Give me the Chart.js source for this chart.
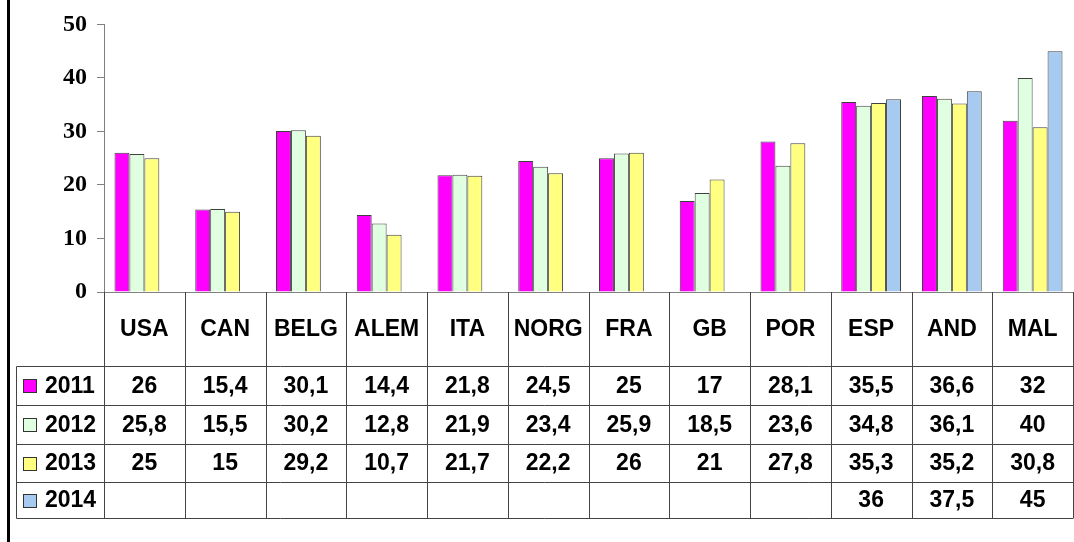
<!DOCTYPE html>
<html>
<head>
<meta charset="utf-8">
<script src="https://cdn.jsdelivr.net/npm/chart.js@4/dist/chart.umd.min.js"></script>
<style>
  html, body { margin: 0; padding: 0; background: #fff; }
  #wrap { width: 1074px; height: 542px; position: relative; }
</style>
</head>
<body>
<div id="wrap"><canvas id="chart" width="1074" height="542"></canvas></div>
<script>
const countries = ['USA', 'CAN', 'BELG', 'ALEM', 'ITA', 'NORG', 'FRA', 'GB', 'POR', 'ESP', 'AND', 'MAL'];
const years = ['2011', '2012', '2013', '2014'];
const values2011 = [26, 15.4, 30.1, 14.4, 21.8, 24.5, 25, 17, 28.1, 35.5, 36.6, 32];
const values2012 = [25.8, 15.5, 30.2, 12.8, 21.9, 23.4, 25.9, 18.5, 23.6, 34.8, 36.1, 40];
const values2013 = [25, 15, 29.2, 10.7, 21.7, 22.2, 26, 21, 27.8, 35.3, 35.2, 30.8];
const values2014 = [null, null, null, null, null, null, null, null, null, 36, 37.5, 45];
const yTicks = [0, 10, 20, 30, 40, 50];

const seriesColors = ['#ff00ff', '#e0ffe0', '#ffff80', '#a6caf0'];
const seriesValues = [values2011, values2012, values2013, values2014];

const lineColor = '#444444';
const axisColor = '#808080';
const tableFont = 'bold 23px "Liberation Sans", Arial, sans-serif';

// data table under the plot, drawn from the same arrays
const dataTable = {
  id: 'dataTable',
  afterDraw(c) {
    const ctx = c.ctx;
    const area = c.chartArea;
    const x = c.scales.x;
    const colW = (area.right - area.left) / countries.length;
    const labelRowBottom = 365.5;
    const rowH = [39.5, 38.5, 38.5, 36];
    const legendLeft = 16.5;

    ctx.save();

    // outer frame line on the left
    ctx.fillStyle = '#000';
    ctx.fillRect(7, 0, 3, 542);

    // category axis baseline
    ctx.strokeStyle = axisColor;
    ctx.lineWidth = 1;
    ctx.beginPath();
    ctx.moveTo(area.left, Math.round(area.bottom) + 0.5);
    ctx.lineTo(area.right, Math.round(area.bottom) + 0.5);
    ctx.stroke();

    // row boundaries
    const rowTops = [labelRowBottom];
    rowH.forEach((h, i) => rowTops.push(rowTops[i] + h));
    const tableBottom = rowTops[rowTops.length - 1];

    ctx.strokeStyle = lineColor;
    ctx.beginPath();
    rowTops.forEach((y) => {
      ctx.moveTo(legendLeft, Math.round(y) + 0.5);
      ctx.lineTo(area.right, Math.round(y) + 0.5);
    });
    // legend column left edge
    ctx.moveTo(legendLeft, Math.round(labelRowBottom) + 0.5);
    ctx.lineTo(legendLeft, Math.round(tableBottom) + 0.5);
    // column boundaries
    for (let i = 0; i <= countries.length; i++) {
      const xx = Math.round(area.left + i * colW) + 0.5;
      ctx.moveTo(xx, area.bottom);
      ctx.lineTo(xx, Math.round(tableBottom) + 0.5);
    }
    ctx.stroke();

    // category labels
    ctx.fillStyle = '#000';
    ctx.textAlign = 'center';
    ctx.textBaseline = 'middle';
    ctx.font = tableFont;
    countries.forEach((name, i) => {
      ctx.fillText(name, x.getPixelForValue(i), (area.bottom + labelRowBottom) / 2 + 1);
    });

    // rows
    years.forEach((year, r) => {
      const yMid = (rowTops[r] + rowTops[r + 1]) / 2 + 1;
      // legend swatch
      ctx.fillStyle = seriesColors[r];
      ctx.fillRect(23, Math.round(yMid - 7), 14, 14);
      ctx.strokeStyle = '#333';
      ctx.strokeRect(23.5, Math.round(yMid - 7) + 0.5, 13, 13);
      ctx.fillStyle = '#000';
      ctx.textAlign = 'left';
      ctx.font = tableFont;
      ctx.fillText(year, 45, yMid);

      ctx.textAlign = 'center';
      seriesValues[r].forEach((v, i) => {
        if (v === null) return;
        ctx.fillText(String(v).replace('.', ','), x.getPixelForValue(i), yMid);
      });
    });

    ctx.restore();
  }
};

new Chart(document.getElementById('chart'), {
  type: 'bar',
  data: {
    labels: countries,
    datasets: years.map((year, i) => ({
      label: year,
      data: seriesValues[i],
      backgroundColor: seriesColors[i],
      borderColor: '#404040',
      borderWidth: 1,
      barPercentage: 1,
      categoryPercentage: 0.74,
    })),
  },
  options: {
    responsive: false,
    animation: false,
    layout: {
      padding: { left: 0, right: 1, top: 23, bottom: 250 },
    },
    scales: {
      x: {
        display: false,
      },
      y: {
        min: 0,
        max: 50,
        afterFit: (scale) => { scale.width = 104; },
        afterBuildTicks: (scale) => { scale.ticks = yTicks.map((v) => ({ value: v })); },
        border: { display: true, color: axisColor, width: 1 },
        grid: {
          drawOnChartArea: false,
          drawTicks: true,
          tickLength: 7,
          color: axisColor,
        },
        ticks: {
          padding: 10,
          color: '#000',
          font: { family: '"Liberation Serif", "Times New Roman", serif', size: 24, weight: 'bold' },
        },
      },
    },
    plugins: {
      legend: { display: false },
      tooltip: { enabled: false },
    },
  },
  plugins: [dataTable],
});
</script>
</body>
</html>
